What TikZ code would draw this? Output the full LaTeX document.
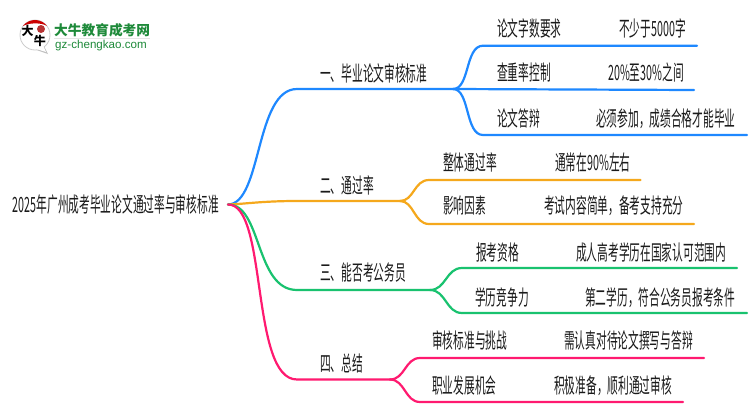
\documentclass[tikz,border=0pt]{standalone}
\usepackage{fontspec}
\setmainfont{Liberation Sans}
\newfontfamily\cjk[FakeStretch=0.51]{Noto Sans CJK SC}
\newfontfamily\cjklogo{Noto Sans CJK SC}
\definecolor{bblue}{HTML}{1E88FF}
\definecolor{borange}{HTML}{F5A81C}
\definecolor{bgreen}{HTML}{19C26F}
\definecolor{bpink}{HTML}{FF1A70}
\definecolor{txt}{HTML}{1A1A1A}
\definecolor{logogreen}{HTML}{1E8A3A}
\tikzset{
  lbl/.style={anchor=west,inner sep=0pt,text=txt,font=\cjk\fontsize{21}{21}\selectfont,text height=20pt,text depth=4pt},
  conn/.style={line width=2.2pt,line cap=round,line join=round},
}
\begin{document}
\begin{tikzpicture}[x=1pt,y=-1pt]
\useasboundingbox (0,0) rectangle (750,410);
\fill[white] (0,0) rectangle (750,410);
% logo
\fill[black!25] (28,47) -- (48,54) -- (43,44) -- cycle;
\draw[black!20,fill=white,line width=0.8pt] (35,35) circle (15);
\fill[white] (30,47) -- (46,52) -- (42,43) -- cycle;
\fill[red!80!black] (23,26) arc[start angle=217,end angle=323,radius=15] .. controls (42,22.5) and (29,22.5) .. cycle;
\fill[red!65!black,opacity=.8] (41,29) circle (4);
\node[inner sep=0pt,text=black,font=\cjklogo\bfseries\fontsize{12}{12}\selectfont] (lg1) at (27.5,31) {大};
\node[inner sep=0pt,text=black,font=\cjklogo\bfseries\fontsize{12}{12}\selectfont] (lg2) at (40,41) {牛};
\node[anchor=west,inner sep=0pt,text=logogreen,font=\cjklogo\bfseries\fontsize{13.7}{14}\selectfont] (lg3) at (54,30) {大牛教育成考网};
\fill[black!10] (54,38) rectangle (150,39);
\node[anchor=west,inner sep=0pt,text=logogreen,font=\fontsize{11.6}{12}\selectfont] (lg4) at (55,45) {gz-chengkao.com};
% root
\node[lbl,anchor=east,inner xsep=9pt] (root) at (228,204.5) {2025年广州成考毕业论文通过率与审核标准};
% level 1 labels
\node[lbl] (a) at (320,73) {一、毕业论文审核标准};
\node[lbl] (b) at (320,185) {二、通过率};
\node[lbl] (c) at (320,272) {三、能否考公务员};
\node[lbl] (d) at (320,363) {四、总结};
% level 2 labels
\node[lbl] (a1) at (497,28) {论文字数要求};
\node[lbl] (a1v) at (619,28) {不少于5000字};
\node[lbl] (a2) at (497,72) {查重率控制};
\node[lbl] (a2v) at (608,72) {20\%至30\%之间};
\node[lbl] (a3) at (497,118) {论文答辩};
\node[lbl] (a3v) at (596,118) {必须参加，成绩合格才能毕业};
\node[lbl] (b1) at (443,162) {整体通过率};
\node[lbl] (b1v) at (555,162) {通常在90\%左右};
\node[lbl] (b2) at (443,205) {影响因素};
\node[lbl] (b2v) at (544,205) {考试内容简单，备考支持充分};
\node[lbl] (c1) at (476,252) {报考资格};
\node[lbl] (c1v) at (576,252) {成人高考学历在国家认可范围内};
\node[lbl] (c2) at (475,297) {学历竞争力};
\node[lbl] (c2v) at (585,297) {第二学历，符合公务员报考条件};
\node[lbl] (d1) at (432,340) {审核标准与挑战};
\node[lbl] (d1v) at (564,340) {需认真对待论文撰写与答辩};
\node[lbl] (d2) at (432,385) {职业发展机会};
\node[lbl] (d2v) at (554,385) {积极准备，顺利通过审核};
% junctions and line ends
\coordinate (ja) at (453,89);
\coordinate (jb) at (400,201);
\coordinate (jc) at (430,290);
\coordinate (jd) at (390,379.5);
\coordinate (ea1) at (697,45.7);
\coordinate (ea2) at (694,90);
\coordinate (ea3) at (747,135);
\coordinate (eb1) at (640.5,180);
\coordinate (eb2) at (694,224);
\coordinate (ec1) at (737,268);
\coordinate (ec2) at (747,313);
\coordinate (ed1) at (704,358);
\coordinate (ed2) at (683,402);
% connectors
\draw[conn,bblue] (root.east) .. controls (262,204) and (255,89) .. (297,89) -- (ja);
\draw[conn,bblue] (ja) .. controls (470,89) and (465,45.7) .. (483,45.7) -- (ea1);
\draw[conn,bblue] (ja) -- (ea2);
\draw[conn,bblue] (ja) .. controls (470,89) and (465,135) .. (483,135) -- (ea3);
\draw[conn,borange] (root.east) .. controls (245,204) and (262,201) .. (297,201) -- (jb);
\draw[conn,borange] (jb) .. controls (414,201) and (414,180) .. (429,180) -- (eb1);
\draw[conn,borange] (jb) .. controls (414,201) and (414,224) .. (429,224) -- (eb2);
\draw[conn,bgreen] (root.east) .. controls (262,204) and (255,290) .. (297,290) -- (jc);
\draw[conn,bgreen] (jc) .. controls (446,290) and (446,268) .. (462,268) -- (ec1);
\draw[conn,bgreen] (jc) .. controls (446,290) and (446,313) .. (462,313) -- (ec2);
\draw[conn,bpink] (root.east) .. controls (268,204) and (250,379.5) .. (297,379.5) -- (jd);
\draw[conn,bpink] (jd) .. controls (405,379.5) and (405,358) .. (420,358) -- (ed1);
\draw[conn,bpink] (jd) .. controls (405,379.5) and (405,402) .. (420,402) -- (ed2);
\end{tikzpicture}
\end{document}
